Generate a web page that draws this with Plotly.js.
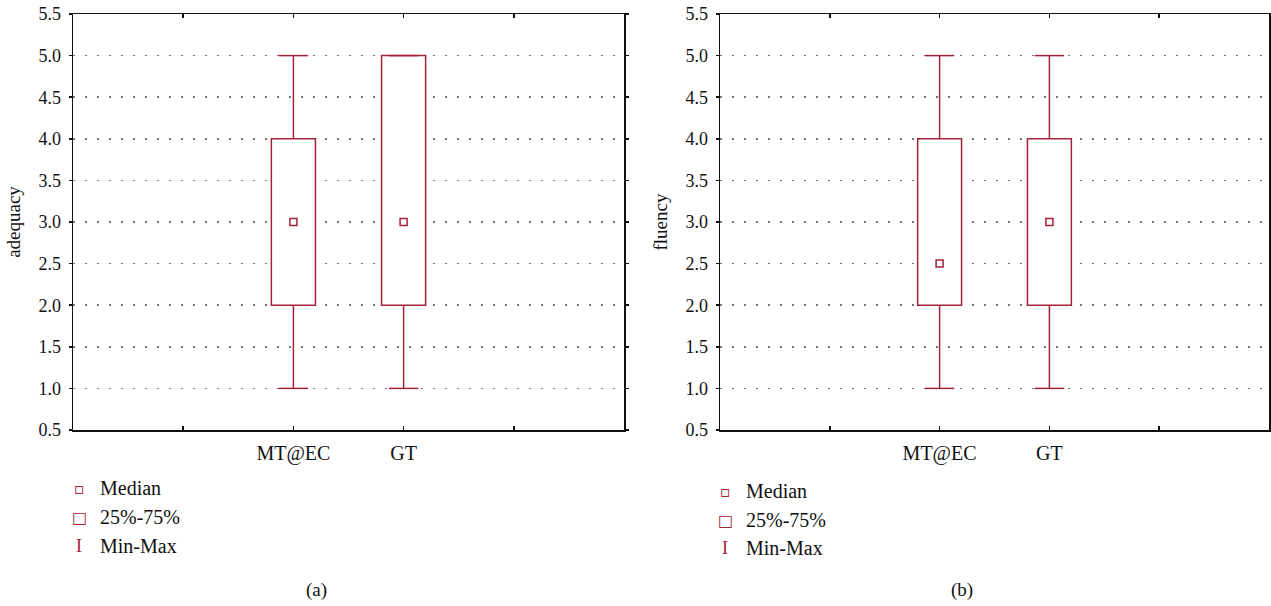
<!DOCTYPE html>
<html><head><meta charset="utf-8">
<script src="https://cdn.plot.ly/plotly-3.0.1.min.js"></script>
<style>html,body{margin:0;padding:0;background:#fff}#chart{width:1271px;height:606px}</style>
</head><body><div id="chart"></div>
<script>
const categories = ['MT@EC', 'GT'];
const adequacyMin = [1, 1];
const adequacyQ1 = [2, 2];
const adequacyMedian = [3, 3];
const adequacyQ3 = [4, 5];
const adequacyMax = [5, 5];
const fluencyMin = [1, 1];
const fluencyQ1 = [2, 2];
const fluencyMedian = [2.5, 3];
const fluencyQ3 = [4, 4];
const fluencyMax = [5, 5];
const axisTitles = ['adequacy', 'fluency'];
const panelLabels = ['(a)', '(b)'];
const legendLabels = ['Median', '25%-75%', 'Min-Max'];

const W = 1271, H = 606;
const RED = '#a5203a';
const FONT = 'Liberation Serif';
const px = v => v / W;
const py = v => 1 - v / H;

function panel(xa, ya, mn, q1, med, q3, mx) {
  const n = categories.length;
  const wx = [], wy = [];
  for (let i = 0; i < n; i++) {
    wx.push(categories[i], categories[i], null, categories[i], categories[i], null);
    wy.push(q3[i], mx[i], null, q1[i], mn[i], null);
  }
  return [
    {type: 'bar', x: categories, base: q1, y: q3.map((v, i) => v - q1[i]), width: 0.4,
     marker: {color: '#ffffff', line: {color: RED, width: 1.5}}, xaxis: xa, yaxis: ya,
     showlegend: false, hoverinfo: 'skip'},
    {type: 'scatter', mode: 'lines', x: wx, y: wy, line: {color: RED, width: 1.5},
     xaxis: xa, yaxis: ya, showlegend: false, hoverinfo: 'skip', connectgaps: false},
    {type: 'scatter', mode: 'markers', x: categories.concat(categories), y: mx.concat(mn),
     marker: {symbol: 'line-ew', size: 21, line: {color: RED, width: 1.5}},
     xaxis: xa, yaxis: ya, showlegend: false, hoverinfo: 'skip'},
    {type: 'scatter', mode: 'markers', x: categories, y: med,
     marker: {symbol: 'square-open', size: 7, color: RED, line: {color: RED, width: 1.5}},
     xaxis: xa, yaxis: ya, showlegend: false, hoverinfo: 'skip'}
  ];
}

const data = [].concat(
  panel('x', 'y', adequacyMin, adequacyQ1, adequacyMedian, adequacyQ3, adequacyMax),
  panel('x2', 'y2', fluencyMin, fluencyQ1, fluencyMedian, fluencyQ3, fluencyMax)
);

function xAxis(domain, anchor) {
  return {domain: domain, anchor: anchor, type: 'category', categoryarray: categories,
    range: [-2, 3], tickmode: 'array', tickvals: [-1, 0, 1, 2], ticktext: ['', categories[0], categories[1], ''],
    ticks: 'inside', ticklen: 4, tickwidth: 1.5, tickcolor: '#111', showline: true, mirror: 'ticks',
    linecolor: '#111', linewidth: 1.5, showgrid: false, zeroline: false, fixedrange: true,
    tickfont: {family: FONT, size: 20, color: '#111'}, ticklabelstandoff: 4};
}
function yAxis(domain, anchor, title) {
  return {domain: domain, anchor: anchor, range: [0.5, 5.5], tick0: 0.5, dtick: 0.5, tickformat: '.1f',
    ticks: 'outside', ticklen: 3, tickwidth: 1.5, tickcolor: '#111', showline: true, mirror: 'ticks',
    linecolor: '#111', linewidth: 1.5, showgrid: true, gridcolor: '#777777', gridwidth: 1.5,
    griddash: '1.5px,10.5px', zeroline: false, fixedrange: true,
    tickfont: {family: FONT, size: 18, color: '#111'}, ticklabelstandoff: 4,
    title: {text: title, font: {family: FONT, size: 19, color: '#111'}, standoff: 13}};
}

const yDom = [1 - 430 / H, 1 - 14 / H];
const layout = {
  width: W, height: H, margin: {l: 0, r: 0, t: 0, b: 0}, paper_bgcolor: '#fff', plot_bgcolor: '#fff',
  showlegend: false, barmode: 'overlay', font: {family: FONT, color: '#111'},
  xaxis: xAxis([px(73), px(624)], 'y'),
  yaxis: yAxis(yDom, 'x', axisTitles[0]),
  xaxis2: xAxis([px(720), px(1269)], 'y2'),
  yaxis2: yAxis(yDom, 'x2', axisTitles[1]),
  annotations: []
};

const legendPos = [{sx: 79, tx: 98, ys: [488, 517, 546]}, {sx: 725, tx: 744, ys: [491, 520, 548]}];
const symbols = [
  {t: '▫', size: 16, f: 'DejaVu Sans'},
  {t: '□', size: 16, f: 'DejaVu Sans'},
  {t: 'I', size: 18, f: FONT}
];
legendPos.forEach(p => {
  legendLabels.forEach((lab, i) => {
    layout.annotations.push({xref: 'paper', yref: 'paper', x: px(p.sx), y: py(p.ys[i]), xanchor: 'center', yanchor: 'middle',
      text: symbols[i].t, showarrow: false, font: {family: symbols[i].f, size: symbols[i].size, color: RED}});
    layout.annotations.push({xref: 'paper', yref: 'paper', x: px(p.tx), y: py(p.ys[i]), xanchor: 'left', yanchor: 'middle',
      text: lab, showarrow: false, font: {family: FONT, size: 20, color: '#111'}});
  });
});
[[316, 590], [962, 590]].forEach((p, i) => {
  layout.annotations.push({xref: 'paper', yref: 'paper', x: px(p[0]), y: py(p[1]), xanchor: 'center', yanchor: 'middle',
    text: panelLabels[i], showarrow: false, font: {family: FONT, size: 19, color: '#111'}});
});

Plotly.newPlot('chart', data, layout, {displayModeBar: false, staticPlot: true});
</script></body></html>
